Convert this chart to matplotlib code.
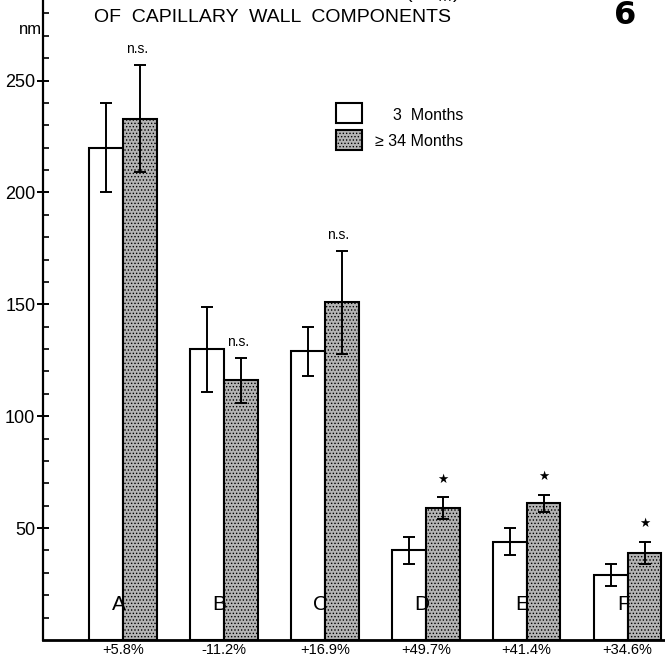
import numpy as np
import matplotlib
matplotlib.use("Agg")
import matplotlib.pyplot as plt

plt.rcParams['font.family'] = ['Liberation Sans', 'DejaVu Sans']
plt.rcParams['hatch.color'] = '#444444'
plt.rcParams['hatch.linewidth'] = 0.6

# =====================================
# DATA
# =====================================
groups = ['A', 'B', 'C', 'D', 'E', 'F']
changes = ['+5.8%', '-11.2%', '+16.9%', '+49.7%', '+41.4%', '+34.6%']
young_mean = [220, 130, 129, 40, 44, 29]
young_err = [20, 19, 11, 6, 6, 5]
old_mean = [233, 116, 151, 59, 61, 39]
old_err = [24, 10, 23, 5, 4, 5]
marks = ['n.s.', 'n.s.', 'n.s.', '*', '*', '*']

GREY = '#b4b4b4'

# =====================================
# FIGURE
# =====================================
fig = plt.figure(figsize=(6.65, 6.58), dpi=100)
ax = fig.add_axes([43 / 665, 18 / 658, 622 / 665, 640 / 658])

x = np.arange(len(groups))
w = 0.335

ax.bar(x - w / 2, young_mean, w, color='white', edgecolor='black', linewidth=1.5, zorder=2)
ax.bar(x + w / 2, old_mean, w, color=GREY, edgecolor='black', linewidth=1.5,
       hatch='.....', zorder=2)
ax.errorbar(x - w / 2, young_mean, yerr=young_err, fmt='none', ecolor='black',
            elinewidth=1.4, capsize=4, capthick=1.4, zorder=3)
ax.errorbar(x + w / 2, old_mean, yerr=old_err, fmt='none', ecolor='black',
            elinewidth=1.4, capsize=4, capthick=1.4, zorder=3)

# significance marks
for i, m in enumerate(marks):
    top = old_mean[i] + old_err[i]
    if m == '*':
        ax.text(x[i] + w / 2, top + 5, '\u2605', ha='center', va='bottom', fontsize=9,
                family='DejaVu Sans')
    else:
        ax.text(x[i] + w / 2 - 0.03, top + 4, m, ha='center', va='bottom', fontsize=10)

# group letters and percentage changes
for i, g in enumerate(groups):
    ax.text(x[i] - 0.04, 16, g, ha='center', va='center', fontsize=15, zorder=4)
    ax.text(x[i], -4.5, changes[i], ha='center', va='center', fontsize=10.5, clip_on=False)

ax.set_xlim(-0.79, 5.37)
ax.set_ylim(0, 286)
ax.set_yticks([50, 100, 150, 200, 250])
ax.set_yticks(np.arange(10, 286, 10), minor=True)
ax.tick_params(axis='y', which='major', direction='inout', length=9, width=1.4,
               labelsize=13, pad=1)
ax.tick_params(axis='y', which='minor', direction='in', length=4, width=1.2)
ax.set_xticks([])
for s in ['top', 'right']:
    ax.spines[s].set_visible(False)
ax.spines['left'].set_linewidth(1.6)
ax.spines['bottom'].set_linewidth(2.0)

# legend drawn as boxes next to labels
fig.patches.append(plt.Rectangle((336 / 665, 1 - 123 / 658), 26 / 665, 20 / 658,
                                 transform=fig.transFigure, facecolor='white',
                                 edgecolor='black', linewidth=1.5))
fig.patches.append(plt.Rectangle((336 / 665, 1 - 150 / 658), 26 / 665, 20 / 658,
                                 transform=fig.transFigure, facecolor=GREY,
                                 edgecolor='black', linewidth=1.5, hatch='.....'))
fig.text(463 / 665, 1 - 115 / 658, '3  Months', ha='right', va='center', fontsize=11.5)
fig.text(463 / 665, 1 - 142 / 658, '\u2265 34 Months', ha='right', va='center', fontsize=11.5)

# titles (first line runs off the top edge as in the original)
fig.text(273 / 665, 1 - 17 / 658, 'OF  CAPILLARY  WALL  COMPONENTS', ha='center',
         va='center', fontsize=14)
fig.text(273 / 665, 1 + 6 / 658, 'ARITHMETIC  MEAN  THICKNESS  (\u00b1 s$_m$)', ha='center',
         va='center', fontsize=14)
fig.text(30 / 665, 1 - 29 / 658, 'nm', ha='center', va='center', fontsize=12)
fig.text(625 / 665, 1 - 15 / 658, '6', ha='center', va='center', fontsize=23,
         fontweight='bold', family='DejaVu Sans')

fig.savefig('out.png', dpi=100)
